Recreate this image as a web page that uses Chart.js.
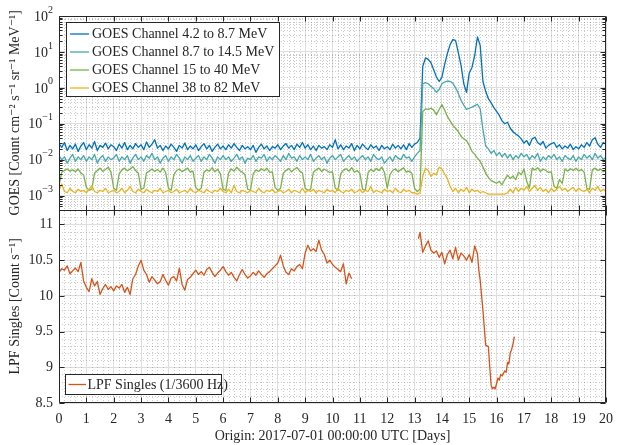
<!DOCTYPE html>
<html><head><meta charset="utf-8">
<script src="https://cdn.jsdelivr.net/npm/chart.js@4"></script>
<style>html,body{margin:0;padding:0;background:#fff}#wrap{width:621px;height:445px}</style>
</head><body><div id="wrap"><canvas id="c" width="621" height="445"></canvas></div>
<script>
// ---- data ----
const days = [
0,0.1,0.2,0.3,0.4,0.5,0.6,0.7,0.8,0.9,1,1.1,1.2,1.3,1.4,1.5,1.6,1.7,1.8,1.9,
2,2.1,2.2,2.3,2.4,2.5,2.6,2.7,2.8,2.9,3,3.1,3.2,3.3,3.4,3.5,3.6,3.7,3.8,3.9,
4,4.1,4.2,4.3,4.4,4.5,4.6,4.7,4.8,4.9,5,5.1,5.2,5.3,5.4,5.5,5.6,5.7,5.8,5.9,
6,6.1,6.2,6.3,6.4,6.5,6.6,6.7,6.8,6.9,7,7.1,7.2,7.3,7.4,7.5,7.6,7.7,7.8,7.9,
8,8.1,8.2,8.3,8.4,8.5,8.6,8.7,8.8,8.9,9,9.1,9.2,9.3,9.4,9.5,9.6,9.7,9.8,9.9,
10,10.1,10.2,10.3,10.4,10.5,10.6,10.7,10.8,10.9,11,11.1,11.2,11.3,11.4,11.5,11.6,11.7,11.8,11.9,
12,12.1,12.2,12.3,12.4,12.5,12.6,12.7,12.8,12.9,13,13.1,13.2,13.3,13.4,13.5,13.6,13.7,13.8,13.9,
14,14.1,14.2,14.3,14.4,14.5,14.6,14.7,14.8,14.9,15,15.1,15.2,15.3,15.4,15.5,15.6,15.7,15.8,15.9,
16,16.1,16.2,16.3,16.4,16.5,16.6,16.7,16.8,16.9,17,17.1,17.2,17.3,17.4,17.5,17.6,17.7,17.8,17.9,
18,18.1,18.2,18.3,18.4,18.5,18.6,18.7,18.8,18.9,19,19.1,19.2,19.3,19.4,19.5,19.6,19.7,19.8,19.9,
20];

const goes4to8 = [
0.028,0.022,0.03,0.018,0.025,0.02,0.027,0.017,0.024,0.03,
0.019,0.026,0.021,0.032,0.018,0.025,0.022,0.029,0.02,0.026,
0.023,0.018,0.027,0.021,0.03,0.019,0.025,0.02,0.028,0.022,
0.026,0.019,0.031,0.022,0.027,0.036,0.021,0.025,0.018,0.024,
0.02,0.027,0.022,0.017,0.025,0.021,0.029,0.019,0.024,0.02,
0.026,0.018,0.023,0.028,0.02,0.025,0.017,0.022,0.027,0.02,
0.024,0.019,0.026,0.021,0.028,0.022,0.018,0.025,0.02,0.023,
0.019,0.025,0.016,0.022,0.027,0.02,0.024,0.018,0.023,0.021,
0.026,0.019,0.024,0.028,0.021,0.025,0.019,0.027,0.022,0.03,
0.021,0.026,0.019,0.024,0.018,0.025,0.021,0.023,0.019,0.026,
0.022,0.036,0.02,0.026,0.019,0.024,0.021,0.028,0.018,0.025,
0.02,0.027,0.022,0.019,0.026,0.021,0.024,0.018,0.025,0.02,
0.023,0.019,0.027,0.021,0.025,0.02,0.026,0.019,0.028,0.022,
0.027,0.03,0.04,4.0,6.8,6.2,5.0,3.2,2.0,1.5,
1.95,4.5,9,16,22,21,9.5,4.2,1.3,0.75,
2.6,3.7,8,26,15,1.5,0.8,0.5,0.38,0.28,
0.22,0.17,0.12,0.1,0.11,0.075,0.06,0.052,0.046,0.038,
0.029,0.034,0.025,0.038,0.042,0.03,0.026,0.032,0.021,0.025,
0.028,0.03,0.022,0.026,0.02,0.024,0.021,0.027,0.019,0.023,
0.02,0.026,0.022,0.03,0.024,0.036,0.041,0.027,0.022,0.03,
0.027];

const goes8to14 = [
0.013,0.01,0.012,0.008,0.011,0.014,0.009,0.012,0.01,0.013,
0.009,0.012,0.01,0.014,0.008,0.011,0.013,0.009,0.012,0.01,
0.011,0.014,0.009,0.012,0.01,0.013,0.008,0.011,0.014,0.01,
0.012,0.009,0.013,0.011,0.015,0.01,0.012,0.008,0.011,0.013,
0.009,0.012,0.01,0.014,0.011,0.008,0.012,0.01,0.013,0.009,
0.011,0.013,0.009,0.012,0.01,0.014,0.011,0.008,0.012,0.01,
0.013,0.01,0.012,0.009,0.011,0.014,0.01,0.012,0.008,0.011,
0.01,0.013,0.009,0.012,0.011,0.014,0.009,0.012,0.01,0.013,
0.011,0.009,0.013,0.01,0.015,0.011,0.012,0.009,0.013,0.01,
0.012,0.01,0.014,0.009,0.011,0.013,0.01,0.012,0.008,0.011,
0.013,0.01,0.012,0.014,0.009,0.011,0.013,0.01,0.012,0.009,
0.011,0.013,0.01,0.012,0.009,0.014,0.011,0.01,0.012,0.008,
0.01,0.012,0.009,0.013,0.011,0.01,0.014,0.011,0.012,0.009,
0.012,0.015,0.018,1.3,1.4,1.3,1.1,0.95,0.75,0.9,
1.3,1.45,1.55,1.5,1.35,1.0,0.7,0.45,0.33,0.25,
0.27,0.29,0.32,0.35,0.26,0.07,0.024,0.02,0.015,0.018,
0.013,0.016,0.012,0.015,0.011,0.014,0.01,0.013,0.011,0.015,
0.012,0.014,0.01,0.013,0.011,0.015,0.009,0.012,0.01,0.013,
0.011,0.014,0.01,0.012,0.009,0.013,0.011,0.01,0.013,0.009,
0.012,0.01,0.014,0.011,0.013,0.01,0.015,0.011,0.013,0.01,
0.012];

const goes15to40 = [
0.0019,0.0045,0.005,0.0055,0.0048,0.0052,0.0046,0.0055,0.0042,0.0038,
0.0017,0.0014,0.0015,0.0042,0.005,0.0058,0.0047,0.0053,0.0062,0.0045,
0.0016,0.0014,0.004,0.0052,0.0058,0.0049,0.0055,0.0064,0.005,0.0042,
0.0015,0.0016,0.0043,0.0048,0.0055,0.0047,0.0053,0.0045,0.0058,0.0044,
0.0016,0.0014,0.0038,0.005,0.0055,0.0046,0.0052,0.0058,0.0045,0.0048,
0.0017,0.0014,0.0016,0.0045,0.0052,0.0048,0.006,0.0046,0.0054,0.0041,
0.0015,0.0014,0.0043,0.0055,0.0048,0.0062,0.005,0.0045,0.0038,0.0015,
0.0014,0.004,0.0052,0.0047,0.0056,0.0049,0.0058,0.0044,0.0046,0.0017,
0.0014,0.0016,0.0042,0.005,0.0057,0.0046,0.0053,0.0061,0.0048,0.0043,
0.0016,0.0014,0.0015,0.0045,0.0052,0.0058,0.0047,0.0054,0.0049,0.0044,
0.0046,0.0016,0.0014,0.004,0.0051,0.0056,0.0048,0.006,0.0045,0.005,
0.0042,0.0015,0.0014,0.0043,0.0054,0.0047,0.0057,0.005,0.0062,0.0044,
0.0016,0.0038,0.005,0.0056,0.0046,0.0053,0.0059,0.0045,0.0048,0.0042,
0.0016,0.0013,0.0015,0.22,0.26,0.25,0.27,0.24,0.18,0.25,
0.34,0.24,0.16,0.12,0.09,0.075,0.06,0.045,0.038,0.034,
0.025,0.017,0.014,0.011,0.009,0.0063,0.0042,0.0032,0.0026,0.0024,
0.0022,0.0025,0.002,0.0028,0.0037,0.003,0.0035,0.0028,0.0045,0.0038,
0.0055,0.0025,0.0016,0.0058,0.0052,0.006,0.0047,0.0055,0.005,0.0044,
0.0046,0.0018,0.0016,0.0028,0.0022,0.0055,0.0048,0.0056,0.005,0.0058,
0.0049,0.0053,0.0045,0.0016,0.0015,0.0052,0.0058,0.005,0.0055,0.0046,
0.005];

const goes38to82 = [
0.0014,0.0021,0.0013,0.0012,0.0016,0.0013,0.0012,0.0015,0.0013,0.0014,
0.0012,0.0015,0.0019,0.0013,0.0012,0.0014,0.0013,0.0016,0.0012,0.0013,
0.0014,0.0012,0.0013,0.0016,0.0012,0.0014,0.0018,0.0013,0.0012,0.0015,
0.0013,0.0012,0.0015,0.0013,0.0012,0.0014,0.0013,0.0016,0.0012,0.0013,
0.0014,0.0012,0.0013,0.0015,0.0012,0.0013,0.0014,0.0012,0.0016,0.0013,
0.0012,0.0014,0.0013,0.0012,0.0015,0.0013,0.0012,0.0014,0.0013,0.0016,
0.0013,0.0012,0.0015,0.0012,0.0019,0.0013,0.0012,0.0014,0.0013,0.0012,
0.0014,0.0013,0.0012,0.0016,0.0013,0.0012,0.0014,0.0013,0.0015,0.0012,
0.0013,0.0014,0.0012,0.0013,0.0015,0.0012,0.0014,0.0013,0.0012,0.0016,
0.0012,0.0014,0.0013,0.0015,0.0012,0.0014,0.0013,0.0012,0.0015,0.0013,
0.0014,0.0012,0.0016,0.0013,0.0012,0.0014,0.0013,0.0015,0.0012,0.0013,
0.0015,0.0012,0.0014,0.0013,0.0018,0.0012,0.0014,0.0013,0.0012,0.0015,
0.0013,0.0014,0.0012,0.0016,0.0013,0.0012,0.0015,0.0013,0.0014,0.0012,
0.0012,0.0011,0.0012,0.0035,0.0058,0.005,0.0034,0.0042,0.0038,0.0062,
0.0055,0.004,0.003,0.0018,0.0013,0.0016,0.0012,0.0015,0.0013,0.0017,
0.0012,0.0015,0.0013,0.0014,0.0012,0.0013,0.0012,0.0011,0.0011,0.0011,
0.0011,0.0011,0.0011,0.0011,0.0012,0.0015,0.0012,0.0017,0.0013,0.0016,
0.0014,0.0018,0.0013,0.0016,0.0019,0.0014,0.0017,0.0013,0.0015,0.0012,
0.0016,0.0013,0.0015,0.0018,0.0014,0.0016,0.0013,0.0015,0.0017,0.0013,
0.0016,0.0014,0.0013,0.0015,0.0012,0.0016,0.0014,0.0018,0.0013,0.0015,
0.0013];

const lpfDays = [
0,0.1,0.2,0.3,0.4,0.5,0.6,0.7,0.8,0.9,1,1.1,1.2,1.3,1.4,1.5,1.6,1.7,1.8,1.9,
2,2.1,2.2,2.3,2.4,2.5,2.6,2.7,2.8,2.9,3,3.1,3.2,3.3,3.4,3.5,3.6,3.7,3.8,3.9,
4,4.1,4.2,4.3,4.4,4.5,4.6,4.7,4.8,4.9,5,5.1,5.2,5.3,5.4,5.5,5.6,5.7,5.8,5.9,
6,6.1,6.2,6.3,6.4,6.5,6.6,6.7,6.8,6.9,7,7.1,7.2,7.3,7.4,7.5,7.6,7.7,7.8,7.9,
8,8.1,8.2,8.3,8.4,8.5,8.6,8.7,8.8,8.9,9,9.1,9.2,9.3,9.4,9.5,9.6,9.7,9.8,9.9,
10,10.1,10.2,10.3,10.4,10.5,10.6,10.7,
11.9,
13.14,13.2,13.3,13.4,13.5,13.6,13.7,13.8,13.9,14,14.1,14.2,14.3,14.4,14.5,14.6,14.7,14.8,14.9,
15,15.1,15.2,15.3,15.35,15.4,15.5,15.6,15.7,15.75,15.8,15.85,15.9,15.95,16.05,16.1,16.15,16.2,
16.3,16.35,16.4,16.45,16.5,16.55,16.6,16.65];
const lpfSingles = [
10.33,10.38,10.36,10.42,10.31,10.35,10.39,10.34,10.47,10.21,10.12,10.06,10.24,10.14,10.2,10.02,10.1,10.16,10.09,10.13,
10.07,10.14,10.11,10.16,10.05,10.12,10.02,10.24,10.3,10.42,10.5,10.36,10.3,10.19,10.27,10.22,10.17,10.2,10.3,10.22,
10.15,10.25,10.27,10.21,10.39,10.16,10.08,10.23,10.26,10.31,10.36,10.3,10.34,10.29,10.37,10.4,10.33,10.27,10.32,10.36,
10.41,10.34,10.29,10.33,10.26,10.21,10.3,10.37,10.3,10.25,10.28,10.33,10.29,10.35,10.3,10.26,10.31,10.34,10.38,10.42,
10.46,10.57,10.42,10.33,10.3,10.38,10.35,10.41,10.44,10.38,10.6,10.71,10.63,10.66,10.62,10.78,10.64,10.58,10.46,10.5,
10.44,10.4,10.37,10.34,10.45,10.17,10.32,10.24,
null,
10.8,10.89,10.61,10.7,10.77,10.64,10.6,10.63,10.54,10.61,10.45,10.58,10.64,10.52,10.68,10.5,10.6,10.56,10.5,
10.58,10.47,10.7,10.59,10.36,10.22,9.8,9.31,9.29,9.0,8.75,8.7,8.72,8.7,8.85,8.82,8.9,8.88,
8.95,8.93,9.07,9.05,9.2,9.25,9.33,9.43];

const xTicks = [0,1,2,3,4,5,6,7,8,9,10,11,12,13,14,15,16,17,18,19,20];
const goesTicks = [1e-3,1e-2,1e-1,1,10,100];
const goesTickExp = ['\u22123','\u22122','\u22121','0','1','2'];
const lpfTicks = [8.5,9,9.5,10,10.5,11];
const lpfTickLabels = ['8.5','9','9.5','10','10.5','11'];
const goesNames = ['GOES Channel 4.2 to 8.7 MeV','GOES Channel 8.7 to 14.5 MeV','GOES Channel 15 to 40 MeV','GOES Channel 38 to 82 MeV'];
const lpfName = 'LPF Singles (1/3600 Hz)';

// ---- styling ----
const FAMILY = "'Liberation Serif','DejaVu Serif',serif";
const INK = '#262626';
const goesColors = ['#0072BD','#45A8AC','#79B24A','#EDB120'];
const lpfColor = '#D95319';
const goesSeries = [goes4to8, goes8to14, goes15to40, goes38to82];

function pts(xs, ys){ return xs.map((x,i)=>({x:x, y:ys[i]})); }

const datasets = goesSeries.map((s,i)=>({
  label: goesNames[i], data: pts(days, s), yAxisID:'yG',
  borderColor: goesColors[i], borderWidth: 1.3, pointRadius: 0, tension: 0,
  borderJoinStyle:'round', order: 4 - i
}));
datasets.push({label: lpfName, data: pts(lpfDays, lpfSingles), yAxisID:'yL',
  borderColor: lpfColor, borderWidth: 1.3, pointRadius: 0, tension: 0, spanGaps:false,
  borderJoinStyle:'round', order: 0});

const panelPlugin = {
  id: 'panels',
  beforeDraw(chart){
    const ctx = chart.ctx; ctx.save(); ctx.fillStyle = '#fff';
    ctx.fillRect(0,0,chart.width,chart.height); ctx.restore();
  },
  beforeDatasetsDraw(chart){
    const {ctx, chartArea:a, scales} = chart;
    const x = scales.x, yG = scales.yG, yL = scales.yL;
    ctx.save();
    ctx.strokeStyle = 'rgba(38,38,38,0.24)'; ctx.lineWidth = 1; ctx.setLineDash([1,2]);
    ctx.beginPath();
    for (let i = 1; i < 100; i++) {
      if (i % 5 === 0) continue;
      const px = Math.round(x.getPixelForValue(i/5)) + 0.5;
      ctx.moveTo(px, a.top); ctx.lineTo(px, a.bottom);
    }
    for (let n = -4; n <= 1; n++) for (let k = 2; k <= 9; k++) {
      const v = k*Math.pow(10,n); if (v < yG.min || v > yG.max) continue;
      const py = Math.round(yG.getPixelForValue(v)) + 0.5;
      ctx.moveTo(a.left, py); ctx.lineTo(a.right, py);
    }
    for (let i = 86; i <= 112; i++) {
      if (i % 5 === 0) continue;
      const py = Math.round(yL.getPixelForValue(i/10)) + 0.5;
      ctx.moveTo(a.left, py); ctx.lineTo(a.right, py);
    }
    ctx.stroke(); ctx.restore();
  },
  afterDatasetsDraw(chart){
    const {ctx, chartArea:a, scales} = chart;
    const x = scales.x, yG = scales.yG, yL = scales.yL;
    const L = a.left + 0.5, R = a.right - 0.5, T = a.top + 0.5, B = a.bottom - 0.5;
    const mid = Math.round(yG.bottom) + 0.5;
    ctx.save();
    ctx.strokeStyle = INK; ctx.lineWidth = 1; ctx.setLineDash([]);
    ctx.beginPath();
    ctx.rect(L, T, R - L, B - T);
    ctx.moveTo(L, mid); ctx.lineTo(R, mid);
    xTicks.forEach(v => {
      const px = Math.round(x.getPixelForValue(v)) + 0.5;
      ctx.moveTo(px, T); ctx.lineTo(px, T + 5);
      ctx.moveTo(px, mid - 5); ctx.lineTo(px, mid + 5);
      ctx.moveTo(px, B); ctx.lineTo(px, B - 5);
    });
    for (let n = -4; n <= 2; n++) for (let k = 1; k <= 9; k++) {
      const v = k*Math.pow(10,n); if (v < yG.min || v > yG.max) continue;
      const len = k === 1 ? 5 : 3;
      const py = Math.round(yG.getPixelForValue(v)) + 0.5;
      ctx.moveTo(L, py); ctx.lineTo(L + len, py);
      ctx.moveTo(R, py); ctx.lineTo(R - len, py);
    }
    lpfTicks.forEach(v => {
      const py = Math.round(yL.getPixelForValue(v)) + 0.5;
      ctx.moveTo(L, py); ctx.lineTo(L + 5, py);
      ctx.moveTo(R, py); ctx.lineTo(R - 5, py);
    });
    ctx.stroke();

    ctx.fillStyle = INK; ctx.textBaseline = 'middle'; ctx.textAlign = 'right';
    goesTicks.forEach((v,i) => {
      const py = yG.getPixelForValue(v);
      const right = a.left - 6;
      ctx.font = '10px ' + FAMILY;
      const ew = ctx.measureText(goesTickExp[i]).width;
      ctx.fillText(goesTickExp[i], right, py - 6);
      ctx.font = '14px ' + FAMILY;
      ctx.fillText('10', right - ew, py + 1);
    });

    ctx.textAlign = 'left';
    ctx.font = '14px ' + FAMILY;
    const bx = a.left + 7.5, by = a.top + 6.5;
    ctx.fillStyle = '#fff'; ctx.fillRect(bx, by, 213, 74);
    ctx.strokeStyle = INK; ctx.strokeRect(bx, by, 213, 74);
    goesNames.forEach((nm,i) => {
      const cy = by + 11.5 + i*18;
      ctx.strokeStyle = goesColors[i]; ctx.lineWidth = 1.3;
      ctx.beginPath(); ctx.moveTo(bx + 3.5, cy); ctx.lineTo(bx + 22.5, cy); ctx.stroke();
      ctx.fillStyle = INK; ctx.fillText(nm, bx + 25.5, cy + 0.5);
    });
    const lx = a.left + 6.5, ly = a.bottom - 28.5;
    ctx.lineWidth = 1;
    ctx.fillStyle = '#fff'; ctx.fillRect(lx, ly, 156, 20);
    ctx.strokeStyle = INK; ctx.strokeRect(lx, ly, 156, 20);
    ctx.strokeStyle = lpfColor; ctx.lineWidth = 1.3;
    ctx.beginPath(); ctx.moveTo(lx + 3, ly + 10); ctx.lineTo(lx + 20.5, ly + 10); ctx.stroke();
    ctx.fillStyle = INK; ctx.fillText(lpfName, lx + 22, ly + 10.5);
    ctx.restore();
  }
};

Chart.defaults.font.family = FAMILY;
Chart.defaults.font.size = 14;
Chart.defaults.color = INK;

new Chart(document.getElementById('c'), {
  type: 'line',
  data: { datasets },
  plugins: [panelPlugin],
  options: {
    responsive: false, animation: false, devicePixelRatio: 1,
    layout: { padding: { top: 16, right: 10, left: 0, bottom: 0 } },
    plugins: { legend: { display: false }, tooltip: { enabled: false } },
    scales: {
      x: {
        type: 'linear', min: 0, max: 20, position: 'bottom',
        afterBuildTicks: s => { s.ticks = xTicks.map(v => ({value: v})); },
        afterFit: s => { s.height = 42; },
        ticks: { autoSkip: false, maxRotation: 0, padding: 8, callback: v => String(v) },
        grid: { color: '#dedede', drawTicks: false },
        border: { display: false },
        title: { display: true, text: 'Origin: 2017-07-01 00:00:00 UTC [Days]', padding: { top: 0, bottom: 0 } }
      },
      yL: {
        type: 'linear', position: 'left', stack: 'panels', stackWeight: 1,
        min: 8.5, max: 11.21,
        afterBuildTicks: s => { s.ticks = lpfTicks.map(v => ({value: v})); },
        afterFit: s => { s.width = 59; },
        ticks: { padding: 6, callback: (v) => lpfTickLabels[lpfTicks.indexOf(v)] },
        grid: { color: '#dedede', drawTicks: false },
        border: { display: false },
        title: { display: true, text: 'LPF Singles [Count s\u207B\u00B9]', padding: { top: 7, bottom: 0 } }
      },
      yG: {
        type: 'logarithmic', position: 'left', stack: 'panels', stackWeight: 1,
        min: 4.1e-4, max: 100,
        afterBuildTicks: s => { s.ticks = goesTicks.map(v => ({value: v})); },
        afterFit: s => { s.width = 59; },
        ticks: { display: false },
        grid: { color: '#dedede', drawTicks: false },
        border: { display: false },
        title: { display: true, text: 'GOES [Count cm\u207B\u00B2 s\u207B\u00B9 sr\u207B\u00B9 MeV\u207B\u00B9]', padding: { top: 7, bottom: 0 } }
      }
    }
  }
});
</script>
</body></html>
